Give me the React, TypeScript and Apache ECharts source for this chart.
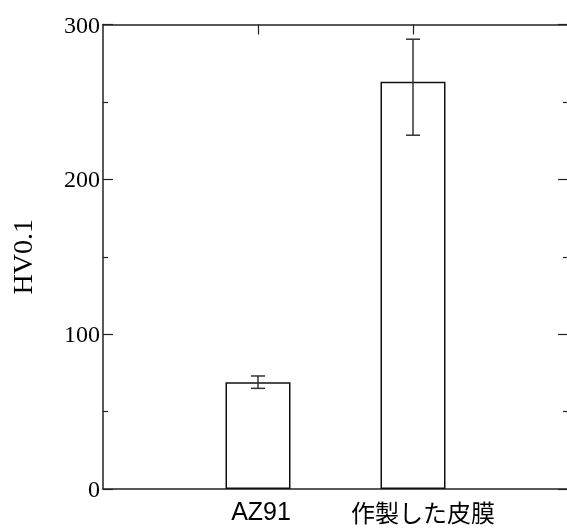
import React, { useEffect, useRef } from "react";
import * as echarts from "echarts";

const categories = ["", "AZ91", "作製した皮膜", ""];
const barNames = ["AZ91", "作製した皮膜"];
const means = [69, 263];
const errLow = [65, 228.5];
const errHigh = [73, 290.5];
const yMin = 0;
const yMax = 300;
const yInterval = 100;
const yTitle = "HV0.1";

export default function App() {
  const ref = useRef<HTMLDivElement>(null);
  useEffect(() => {
    if (!ref.current) return;
    const chart = echarts.init(ref.current, null, { renderer: "svg" });
    const barData = barNames.map((n, i) => [n, means[i]]);
    const errData = barNames.map((n, i) => [n, errLow[i], errHigh[i]]);
    const showTick = (idx: number) => idx === 1 || idx === 2;
    const lineColor = "#222";
    chart.setOption({
      animation: false,
      grid: { left: 103, right: -1, top: 24.5, bottom: 39, containLabel: false, outerBoundsMode: "none" },
      xAxis: [
        {
          type: "category",
          data: categories,
          boundaryGap: false,
          position: "bottom",
          axisLine: { show: true, onZero: false, lineStyle: { color: lineColor, width: 1.5 } },
          axisTick: { show: true, inside: true, length: 10, interval: showTick, lineStyle: { color: lineColor, width: 1.2 } },
          axisLabel: {
            show: true,
            interval: showTick,
            color: "#000",
            fontSize: 24,
            lineHeight: 24,
            fontFamily: "'Liberation Sans', 'Noto Sans CJK JP', sans-serif",
            margin: 10,
            formatter: (v: string) => (v === "AZ91" ? "{a|" + v + "}" : "{b|" + v + "}"),
            rich: {
              a: { fontSize: 25, lineHeight: 24, fontFamily: "'Liberation Sans', sans-serif", color: "#000", padding: [0, 0, 0, 6] },
              b: { fontSize: 24, lineHeight: 24, fontFamily: "'Noto Sans CJK JP', sans-serif", color: "#000", padding: [0, 0, 0, 20] },
            },
          },
          splitLine: { show: false },
        },
        {
          type: "category",
          data: categories,
          boundaryGap: false,
          position: "top",
          axisLine: { show: true, onZero: false, lineStyle: { color: lineColor, width: 1.5 } },
          axisTick: { show: true, inside: true, length: 10, interval: showTick, lineStyle: { color: lineColor, width: 1.2 } },
          axisLabel: { show: false },
          splitLine: { show: false },
        },
      ],
      yAxis: [
        {
          type: "value",
          min: yMin,
          max: yMax,
          interval: yInterval,
          position: "left",
          name: yTitle,
          nameLocation: "middle",
          nameGap: 67,
          nameTextStyle: { fontFamily: "'Liberation Serif', serif", fontSize: 28, color: "#000" },
          axisLine: { show: true, onZero: false, lineStyle: { color: lineColor, width: 1.5 } },
          axisTick: { show: true, inside: true, length: 10, lineStyle: { color: lineColor, width: 1.2 } },
          minorTick: { show: true, splitNumber: 2, length: 5, lineStyle: { color: lineColor, width: 1.2 } },
          axisLabel: { color: "#000", fontSize: 24, fontFamily: "'Liberation Serif', serif", margin: 3 },
          splitLine: { show: false },
        },
        {
          type: "value",
          min: yMin,
          max: yMax,
          interval: yInterval,
          position: "right",
          axisLine: { show: false, onZero: false },
          axisTick: { show: true, inside: true, length: 10, lineStyle: { color: lineColor, width: 1.2 } },
          minorTick: { show: true, splitNumber: 2, length: 5, lineStyle: { color: lineColor, width: 1.2 } },
          axisLabel: { show: false },
          splitLine: { show: false },
        },
      ],
      series: [
        {
          type: "bar",
          data: barData,
          barWidth: 65,
          itemStyle: { color: "#fff", borderColor: "#111", borderWidth: 1.5 },
          z: 1,
        },
        {
          type: "custom",
          data: errData,
          z: 3,
          renderItem: (params: any, api: any) => {
            const x = api.value(0);
            const lo = api.coord([x, api.value(1)]);
            const hi = api.coord([x, api.value(2)]);
            const hw = 7;
            const style = { stroke: "#333", lineWidth: 1.5, fill: "none" };
            return {
              type: "group",
              children: [
                { type: "line", shape: { x1: lo[0], y1: lo[1], x2: hi[0], y2: hi[1] }, style },
                { type: "line", shape: { x1: lo[0] - hw, y1: lo[1], x2: lo[0] + hw, y2: lo[1] }, style },
                { type: "line", shape: { x1: hi[0] - hw, y1: hi[1], x2: hi[0] + hw, y2: hi[1] }, style },
              ],
            };
          },
        },
      ],
    });
    return () => chart.dispose();
  }, []);
  return <div ref={ref} style={{ position: "fixed", left: 0, top: 0, width: 567, height: 528 }} />;
}
